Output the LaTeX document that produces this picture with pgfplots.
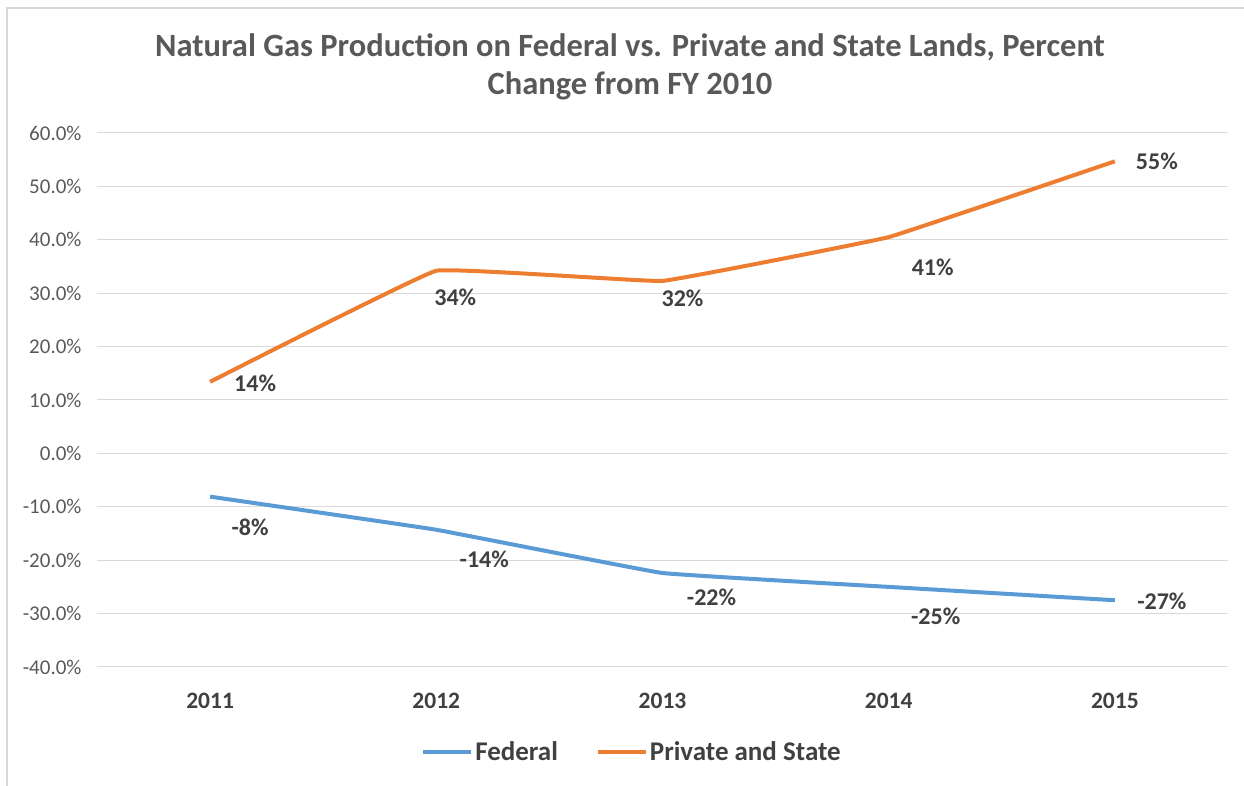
\documentclass[border=0pt]{standalone}
\usepackage{fontspec}
\setmainfont{Carlito}
\usepackage{pgfplots}
\pgfplotsset{compat=1.18}
\definecolor{fedblue}{HTML}{5B9BD5}
\definecolor{priorange}{HTML}{ED7D31}
\definecolor{gridgray}{HTML}{D9D9D9}
\definecolor{txtgray}{HTML}{595959}
\definecolor{lblgray}{HTML}{404040}
\begin{document}
\begin{tikzpicture}[x=1pt,y=1pt]
\path[use as bounding box] (0,0) rectangle (1244,786);
\draw[gridgray, line width=2pt] (7,0) -- (7,778) -- (1244,778);
\node[font=\bfseries\fontsize{32.5}{36}\selectfont, text=txtgray] at (630,739) {Natural Gas Production on Federal vs. Private and State Lands, Percent};
\node[font=\bfseries\fontsize{32.5}{36}\selectfont, text=txtgray] at (630,700) {Change from FY 2010};
\begin{axis}[
  at={(97pt,119pt)}, anchor=south west, scale only axis,
  width=1131pt, height=534pt,
  xmin=-0.5, xmax=4.5, ymin=-40, ymax=60,
  xtick={0,1,2,3,4}, xticklabels={2011,2012,2013,2014,2015},
  ytick={-40,-30,-20,-10,0,10,20,30,40,50,60},
  yticklabels={-40.0\%,-30.0\%,-20.0\%,-10.0\%,0.0\%,10.0\%,20.0\%,30.0\%,40.0\%,50.0\%,60.0\%},
  axis line style={draw=none}, tick style={draw=none},
  ymajorgrids, grid style={gridgray, line width=1pt},
  yticklabel style={font=\fontsize{21}{24}\selectfont, text=txtgray, xshift=-12pt},
  xticklabel style={font=\bfseries\fontsize{23.5}{26}\selectfont, text=lblgray, yshift=-23pt},
  legend style={at={(0.4730,0)}, anchor=center, yshift=-85pt, draw=none, fill=none,
    font=\bfseries\fontsize{27}{30}\selectfont, text=lblgray, legend columns=2,
    /tikz/every odd column/.append style={column sep=0pt},
    /tikz/every even column/.append style={column sep=36pt},
    inner sep=0pt, nodes={inner sep=2pt}},
  legend image code/.code={\draw[#1, line width=4pt] (0pt,0pt) -- (48pt,0pt);},
  every node near coord/.append style={font=\bfseries\fontsize{24}{28}\selectfont, text=lblgray, anchor=center},
]
\addplot[color=fedblue, line width=4pt, smooth, tension=0.12,
  nodes near coords, point meta=explicit symbolic,
  visualization depends on={\thisrow{dx} \as \dx},
  visualization depends on={\thisrow{dy} \as \dy},
  every node near coord/.append style={xshift=\dx pt, yshift=\dy pt}]
  table[x=x, y=y, meta=lab] {
x y lab dx dy
0 -8.1 -8\% 40 -31
1 -14.3 -14\% 48 -30
2 -22.4 -22\% 49 -24
3 -25.0 -25\% 47 -29
4 -27.5 -27\% 47 -1
};
\addlegendentry{Federal}
\addplot[color=priorange, line width=4pt, smooth, tension=0.12,
  nodes near coords, point meta=explicit symbolic,
  visualization depends on={\thisrow{dx} \as \dx},
  visualization depends on={\thisrow{dy} \as \dy},
  every node near coord/.append style={xshift=\dx pt, yshift=\dy pt}]
  table[x=x, y=y, meta=lab] {
x y lab dx dy
0 13.4 14\% 45 -1
1 34.2 34\% 19 -27
2 32.3 32\% 20 -17
3 40.5 41\% 44 -30
4 54.7 55\% 42 0
};
\addlegendentry{Private and State}
\end{axis}
\end{tikzpicture}
\end{document}
